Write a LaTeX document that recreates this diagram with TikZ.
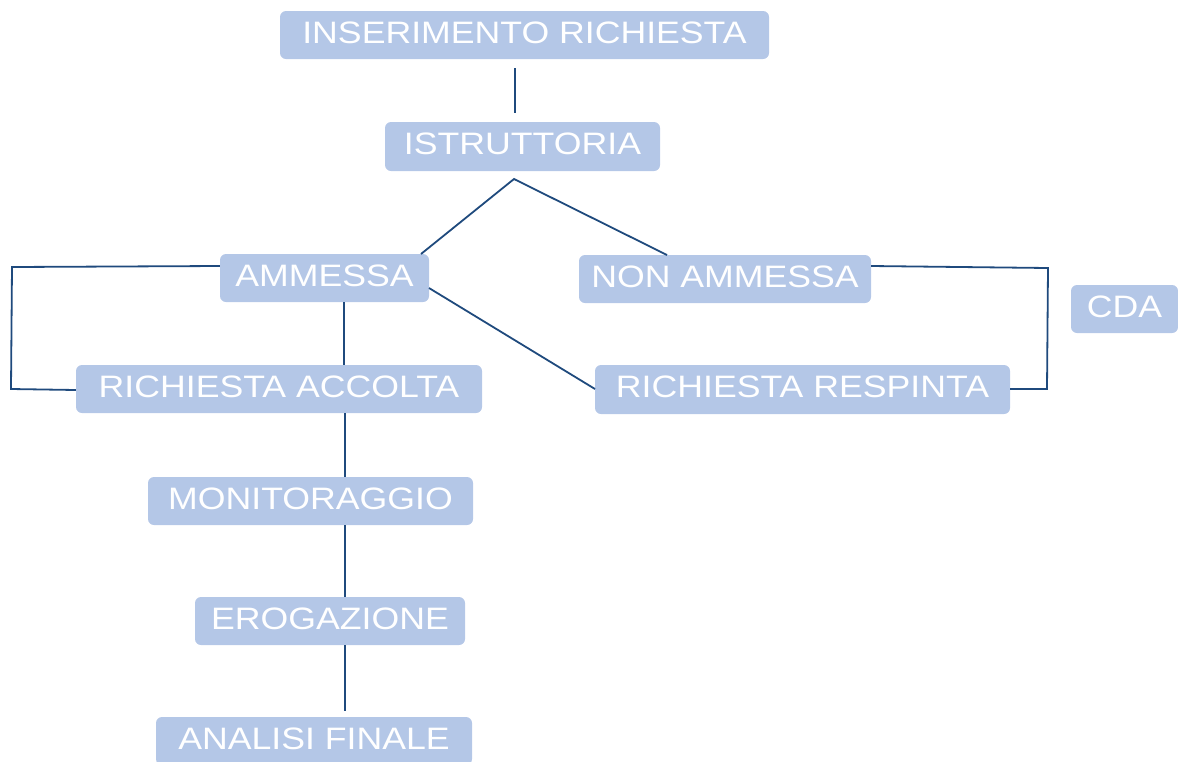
\documentclass[tikz,border=0pt]{standalone}
\usepackage{fontspec}
\setmainfont[FakeStretch=1.15]{Liberation Sans}
\definecolor{boxfill}{HTML}{B4C7E7}
\definecolor{linecol}{HTML}{1F4A7D}
\begin{document}
\begin{tikzpicture}[x=1pt,y=-1pt,
  stepbox/.style={fill=boxfill, rounded corners=6pt, inner sep=0pt, text=white,
    font=\fontsize{31}{31}\selectfont, text height=23pt, text depth=7pt},
  conn/.style={draw=linecol, line width=1.8pt}]
\useasboundingbox (0,0) rectangle (1178,761);
\node[stepbox, minimum width=489pt, minimum height=48pt] (ins) at (524.5,35) {INSERIMENTO RICHIESTA};
\node[stepbox, minimum width=275pt, minimum height=49pt] (ist) at (522.5,146.5) {ISTRUTTORIA};
\node[stepbox, minimum width=209pt, minimum height=48pt] (amm) at (324.5,278) {AMMESSA};
\node[stepbox, minimum width=292pt, minimum height=48pt] (non) at (725,279) {NON AMMESSA};
\node[stepbox, minimum width=107pt, minimum height=48pt] (cda) at (1124.5,309) {CDA};
\node[stepbox, minimum width=406pt, minimum height=48pt] (acc) at (279,389) {RICHIESTA ACCOLTA};
\node[stepbox, minimum width=415pt, minimum height=49pt] (res) at (802.5,389.5) {RICHIESTA RESPINTA};
\node[stepbox, minimum width=325pt, minimum height=48pt] (mon) at (310.5,501) {MONITORAGGIO};
\node[stepbox, minimum width=270pt, minimum height=48pt] (ero) at (330,621) {EROGAZIONE};
\node[stepbox, minimum width=316pt, minimum height=48pt] (ana) at (314,741) {ANALISI FINALE};

\coordinate (ins1) at (515,68);
\coordinate (ins2) at (515,113);
\draw[conn] (ins1) -- (ins2);
\coordinate (apex) at (514,179);
\draw[conn] (421,254) -- (apex) -- (667,255);
\draw[conn] (amm.west |- 0,266) -- (12,267) -- (11,389) -- (acc.west |- 0,390);
\draw[conn] (344,302) -- (344,365);
\draw[conn] (345,413) -- (345,477);
\draw[conn] (345,525) -- (345,597);
\draw[conn] (345,645) -- (345,711);
\draw[conn] (429,288) -- (595,389);
\draw[conn] (non.east |- 0,266) -- (1048,268) -- (1047,389) -- (res.east |- 0,389);
\end{tikzpicture}
\end{document}
